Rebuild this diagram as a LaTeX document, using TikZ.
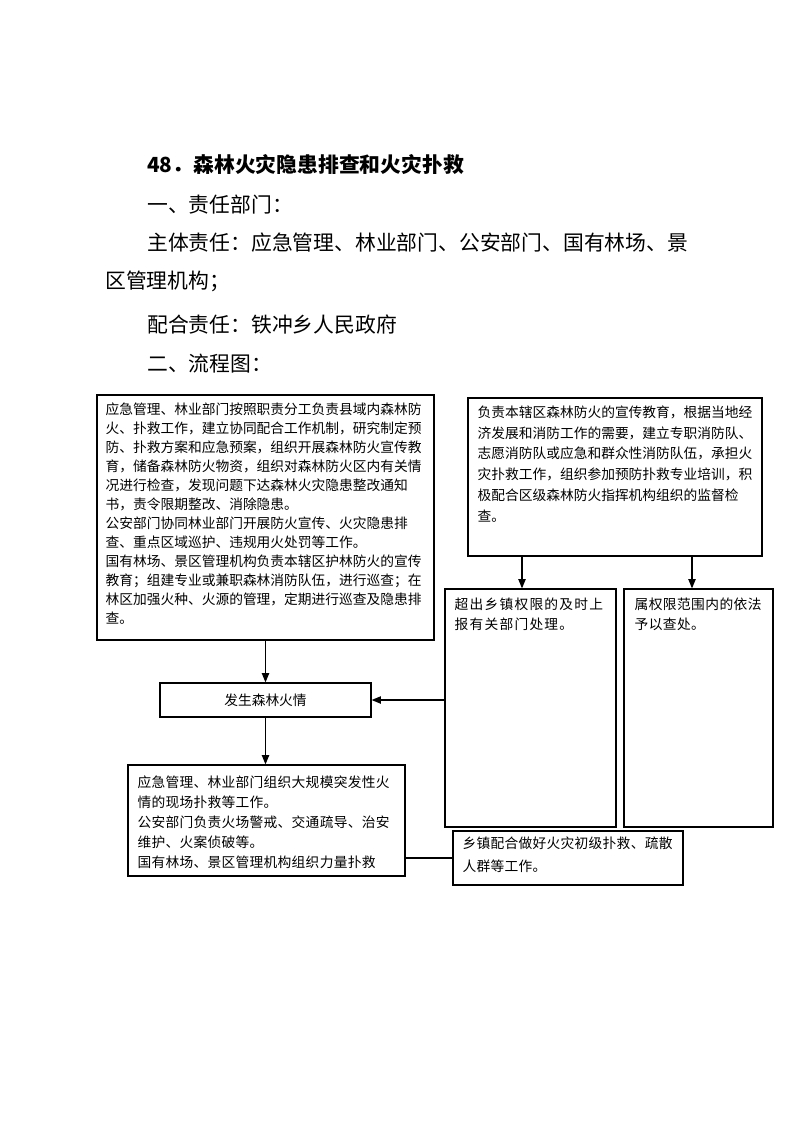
\documentclass[tikz,border=0pt]{standalone}
\usepackage{fontspec}
\newfontfamily\cjk{Noto Sans CJK SC}
\usetikzlibrary{arrows.meta}
\newlength\pxu
\setlength\pxu{0.75pt}
\begin{document}
\begin{tikzpicture}[x=0.75pt,y=-0.75pt,
  box/.style={draw, line width=0.9pt, rectangle, inner sep=0pt},
  txt/.style={font=\cjk\fontsize{10.3pt}{14.25pt}\selectfont, align=left, inner sep=0pt, anchor=north west},
  head/.style={font=\cjk\fontsize{15.6pt}{20pt}\selectfont, inner sep=0pt, anchor=west},
  arr/.style={line width=0.9pt, -{Triangle[length=7pt,width=5.5pt]}},
  link/.style={line width=0.9pt}]
\useasboundingbox (0,0) rectangle (793,1122);
\fill[white] (0,0) rectangle (793,1122);

% header
\node[head, font=\cjk\bfseries\fontsize{15.6pt}{20pt}\selectfont] (title) at (147,165) {48．森林火灾隐患排查和火灾扑救};
\node[head] (h1) at (147,205) {一、责任部门：};
\node[head] (h2) at (147,243) {主体责任：应急管理、林业部门、公安部门、国有林场、景};
\node[head] (h3) at (105,281) {区管理机构；};
\node[head] (h4) at (147,325) {配合责任：铁冲乡人民政府};
\node[head] (h5) at (147,364) {二、流程图：};

% boxes
\node[box, minimum width=337\pxu, minimum height=245\pxu] (A) at (265.5,517.5) {};
\node[box, minimum width=294\pxu, minimum height=158\pxu] (B) at (615,477) {};
\node[box, minimum width=171\pxu, minimum height=238\pxu] (C) at (530.5,708) {};
\node[box, minimum width=149\pxu, minimum height=238\pxu] (D) at (698.5,708) {};
\node[box, minimum width=230\pxu, minimum height=54\pxu] (E) at (568,858) {};
\node[box, minimum width=211\pxu, minimum height=34\pxu,
      font=\cjk\fontsize{10.3pt}{14.25pt}\selectfont] (F) at (265.5,700) {发生森林火情};
\node[box, minimum width=277\pxu, minimum height=111\pxu] (G) at (266.5,820.5) {};

% box texts
\node[txt] (At) at ([shift={(9,8)}]A.north west) {应急管理、林业部门按照职责分工负责县域内森林防\\
火、扑救工作，建立协同配合工作机制，研究制定预\\
防、扑救方案和应急预案，组织开展森林防火宣传教\\
育，储备森林防火物资，组织对森林防火区内有关情\\
况进行检查，发现问题下达森林火灾隐患整改通知\\
书，责令限期整改、消除隐患。\\
公安部门协同林业部门开展防火宣传、火灾隐患排\\
查、重点区域巡护、违规用火处罚等工作。\\
国有林场、景区管理机构负责本辖区护林防火的宣传\\
教育；组建专业或兼职森林消防队伍，进行巡查；在\\
林区加强火种、火源的管理，定期进行巡查及隐患排\\
查。};

\node[txt, font=\cjk\fontsize{10.3pt}{15.6pt}\selectfont] (Bt) at ([shift={(10,8)}]B.north west) {负责本辖区森林防火的宣传教育，根据当地经\\
济发展和消防工作的需要，建立专职消防队、\\
志愿消防队或应急和群众性消防队伍，承担火\\
灾扑救工作，组织参加预防扑救专业培训，积\\
极配合区级森林防火指挥机构组织的监督检\\
查。};

\node[txt, font=\cjk\fontsize{10.3pt}{15.5pt}\selectfont\addfontfeatures{LetterSpace=9}] (Ct) at ([shift={(10,9)}]C.north west) {超出乡镇权限的及时上\\报有关部门处理。};

\node[txt, font=\cjk\fontsize{10.3pt}{15.5pt}\selectfont\addfontfeatures{LetterSpace=3}] (Dt) at ([shift={(11,9)}]D.north west) {属权限范围内的依法\\予以查处。};

\node[txt, font=\cjk\fontsize{10.3pt}{17.5pt}\selectfont\addfontfeatures{LetterSpace=2}] (Et) at ([shift={(10,6)}]E.north west) {乡镇配合做好火灾初级扑救、疏散\\人群等工作。};

\node[txt, font=\cjk\fontsize{10.3pt}{15pt}\selectfont\addfontfeatures{LetterSpace=2}] (Gt) at ([shift={(10,11)}]G.north west) {应急管理、林业部门组织大规模突发性火\\
情的现场扑救等工作。\\
公安部门负责火场警戒、交通疏导、治安\\
维护、火案侦破等。\\
国有林场、景区管理机构组织力量扑救};

% connectors
\draw[arr] (A.south) -- (F.north);
\draw[arr] (F.south) -- (F.south |- G.north);
\draw[arr] (522,0 |- B.south) -- (522,0 |- C.north);
\draw[arr] (692,0 |- B.south) -- (692,0 |- D.north);
\draw[arr] (C.west |- F.east) -- (F.east);
\draw[link] (G.east |- E.west) -- (E.west);
\end{tikzpicture}
\end{document}
